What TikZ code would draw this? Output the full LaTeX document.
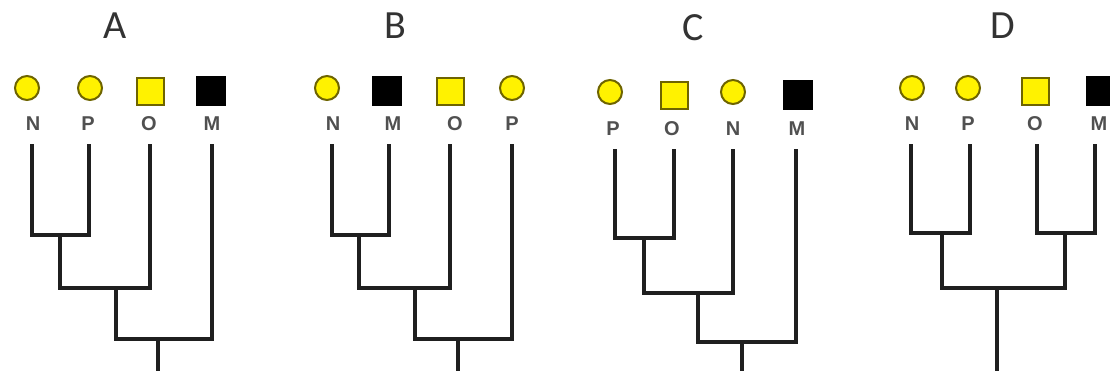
\documentclass[tikz,border=0pt]{standalone}
\usepackage{fontspec}
\setmainfont{Carlito}
\newfontfamily\labfont{Liberation Sans}
\usepackage{tikz}
\usetikzlibrary{positioning,calc}
\definecolor{tipyellow}{HTML}{FFF200}
\definecolor{tipolive}{HTML}{6E6400}
\definecolor{labgray}{HTML}{505050}
\tikzset{
  % spetsar
  tipc/.style={circle,draw=tipolive,fill=tipyellow,line width=2pt,inner sep=0pt,
               minimum size=24pt},
  tips/.style={rectangle,draw=tipolive,fill=tipyellow,line width=2pt,inner sep=0pt,
               minimum size=27pt},
  tipm/.style={rectangle,draw=black,fill=black,inner sep=0pt,minimum size=29pt},
  lab/.style={font=\labfont\bfseries\fontsize{20}{20}\selectfont,text=labgray,inner sep=0pt},
  ttl/.style={font=\fontsize{40}{40}\selectfont,text=black!80,inner sep=0pt},
  % grenar
  br/.style={draw=black!88,line width=3.6pt,line cap=rect},
}
\begin{document}
\begin{tikzpicture}[x=1pt,y=-1pt]
\useasboundingbox (0,0) rectangle (1110,370);
  % A
  \node[ttl] (tA) at (115,26) {A};
  \node[tipc] (sAN) at (27,88) {};
  \node[tipc] (sAP) at (90,88) {};
  \node[tips] (sAO) at (150,91) {};
  \node[tipm] (sAM) at (211,91) {};
  \node[lab] (lAN) at (33,124) {N};
  \node[lab] (lAP) at (88,124) {P};
  \node[lab] (lAO) at (149,124) {O};
  \node[lab] (lAM) at (212,124) {M};
  \coordinate (aN) at (32,146);
  \coordinate (aP) at (89,146);
  \coordinate (aO) at (150,146);
  \coordinate (aM) at (212,146);
  \coordinate (aNP) at (60,235);
  \coordinate (aNPO) at (116,288);
  \coordinate (aRoot) at (158,339);
  \coordinate (aEnd) at (158,374);
  \draw[br] (aN) |- (aNP) -| (aP);
  \draw[br] (aNP) |- (aNPO) -| (aO);
  \draw[br] (aNPO) |- (aRoot) -| (aM);
  \draw[br] (aRoot) -- (aEnd);
  % B
  \node[ttl] (tB) at (395,26) {B};
  \node[tipc] (sBN) at (327,88) {};
  \node[tipm] (sBM) at (387,91) {};
  \node[tips] (sBO) at (450,91) {};
  \node[tipc] (sBP) at (512,88) {};
  \node[lab] (lBN) at (333,124) {N};
  \node[lab] (lBM) at (393,124) {M};
  \node[lab] (lBO) at (455,124) {O};
  \node[lab] (lBP) at (512,124) {P};
  \coordinate (bN) at (332,146);
  \coordinate (bM) at (389,146);
  \coordinate (bO) at (450,146);
  \coordinate (bP) at (512,146);
  \coordinate (bNM) at (359,235);
  \coordinate (bNMO) at (415,288);
  \coordinate (bRoot) at (458,339);
  \coordinate (bEnd) at (458,374);
  \draw[br] (bN) |- (bNM) -| (bM);
  \draw[br] (bNM) |- (bNMO) -| (bO);
  \draw[br] (bNMO) |- (bRoot) -| (bP);
  \draw[br] (bRoot) -- (bEnd);
  % C
  \node[ttl] (tC) at (693,28) {C};
  \node[tipc] (sCP) at (610,92) {};
  \node[tips] (sCO) at (674,95) {};
  \node[tipc] (sCN) at (733,92) {};
  \node[tipm] (sCM) at (798,95) {};
  \node[lab] (lCP) at (613,129) {P};
  \node[lab] (lCO) at (672,129) {O};
  \node[lab] (lCN) at (733,129) {N};
  \node[lab] (lCM) at (797,129) {M};
  \coordinate (cP) at (615,151);
  \coordinate (cO) at (674,151);
  \coordinate (cN) at (733,151);
  \coordinate (cM) at (796,151);
  \coordinate (cPO) at (644,238);
  \coordinate (cPON) at (698,293);
  \coordinate (cRoot) at (742,342);
  \coordinate (cEnd) at (742,374);
  \draw[br] (cP) |- (cPO) -| (cO);
  \draw[br] (cPO) |- (cPON) -| (cN);
  \draw[br] (cPON) |- (cRoot) -| (cM);
  \draw[br] (cRoot) -- (cEnd);
  % D
  \node[ttl] (tD) at (1003,26) {D};
  \node[tipc] (sDN) at (912,88) {};
  \node[tipc] (sDP) at (968,88) {};
  \node[tips] (sDO) at (1035,91) {};
  \node[tipm] (sDM) at (1101,91) {};
  \node[lab] (lDN) at (912,124) {N};
  \node[lab] (lDP) at (968,124) {P};
  \node[lab] (lDO) at (1035,124) {O};
  \node[lab] (lDM) at (1099,124) {M};
  \coordinate (dN) at (911,146);
  \coordinate (dP) at (970,146);
  \coordinate (dO) at (1037,146);
  \coordinate (dM) at (1095,146);
  \coordinate (dNP) at (942,233);
  \coordinate (dOM) at (1065,233);
  \coordinate (dRoot) at (997,288);
  \coordinate (dEnd) at (997,374);
  \draw[br] (dN) |- (dNP) -| (dP);
  \draw[br] (dO) |- (dOM) -| (dM);
  \draw[br] (dNP) |- (dRoot) -| (dOM);
  \draw[br] (dRoot) -- (dEnd);
\end{tikzpicture}
\end{document}
